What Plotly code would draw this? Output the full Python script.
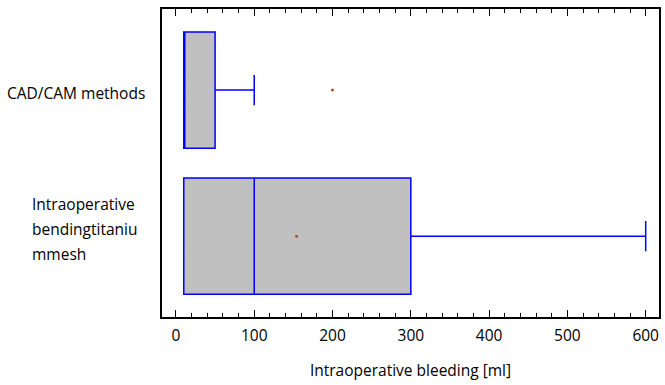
import plotly.graph_objects as go

# ---- data ----
groups = ["CAD/CAM methods", "Intraoperative<br>bendingtitaniu<br>mmesh"]
group_pos = [1, 0]
q1 = [10, 10]
median = [10, 100]
q3 = [50, 300]
lower_whisker = [10, 10]
upper_whisker = [100, 600]
marker_values = [200, 154]
x_ticks = [0, 100, 200, 300, 400, 500, 600]
x_title = "Intraoperative bleeding [ml]"

FONT = "Open Sans"
FS = 15.5
L, R, T, B = 162, 4, 9, 68
W, H = 665, 385
plot_h = H - T - B


def paper_y(py):
    return (H - B - py) / plot_h


fig = go.Figure()

fig.add_trace(go.Box(
    y=group_pos, q1=q1, median=median, q3=q3,
    lowerfence=lower_whisker, upperfence=upper_whisker,
    orientation="h", width=0.795, whiskerwidth=0.26,
    fillcolor="#C0C0C0", line=dict(color="#0000FF", width=1.5),
    boxpoints=False, hoverinfo="skip", showlegend=False,
))

fig.add_trace(go.Scatter(
    x=marker_values, y=group_pos, mode="markers",
    marker=dict(color="#A0522D", size=3), showlegend=False, hoverinfo="skip",
))

# invisible trace on the top axis so that it carries mirrored ticks
fig.add_trace(go.Scatter(
    x=[x_ticks[0]], y=[group_pos[0]], xaxis="x2", mode="markers",
    marker=dict(opacity=0), showlegend=False, hoverinfo="skip",
))

# y category labels
fig.add_annotation(
    x=0, xref="paper", y=paper_y(93), yref="paper", text=groups[0],
    showarrow=False, xanchor="right", yanchor="middle", xshift=-(L - 147),
    font=dict(family=FONT, size=FS, color="#000"),
)
for i, line in enumerate(groups[1].split("<br>")):
    fig.add_annotation(
        x=0, xref="paper", y=paper_y(204 + 25 * i), yref="paper", text=line,
        showarrow=False, xanchor="left", yanchor="middle", xshift=-(L - 30),
        font=dict(family=FONT, size=FS, color="#000"),
    )

xrange = [-17.8, 617]
common_ticks = dict(
    range=xrange, tickvals=x_ticks, ticks="inside", ticklen=7, tickwidth=1,
    tickcolor="#000", showgrid=False, zeroline=False,
    minor=dict(ticks="inside", ticklen=4, dtick=20, tick0=0, tickcolor="#000",
               tickwidth=1, showgrid=False),
)

fig.update_layout(
    width=W, height=H,
    margin=dict(l=L, r=R, t=T, b=B),
    paper_bgcolor="white", plot_bgcolor="white",
    font=dict(family=FONT, size=FS, color="#000"),
    xaxis=dict(
        **common_ticks, showline=True, linecolor="#000", linewidth=1.5,
        mirror=True, ticklabelstandoff=4,
        title=dict(text=x_title, standoff=20, font=dict(family=FONT, size=FS)),
    ),
    xaxis2=dict(
        **common_ticks, overlaying="x", side="top", showticklabels=False,
        showline=False,
    ),
    yaxis=dict(
        range=[-0.553, 1.555], showticklabels=False, ticks="",
        showline=True, linecolor="#000", linewidth=1.5, mirror=True,
        showgrid=False, zeroline=False,
    ),
)

fig.write_html("out.html")
